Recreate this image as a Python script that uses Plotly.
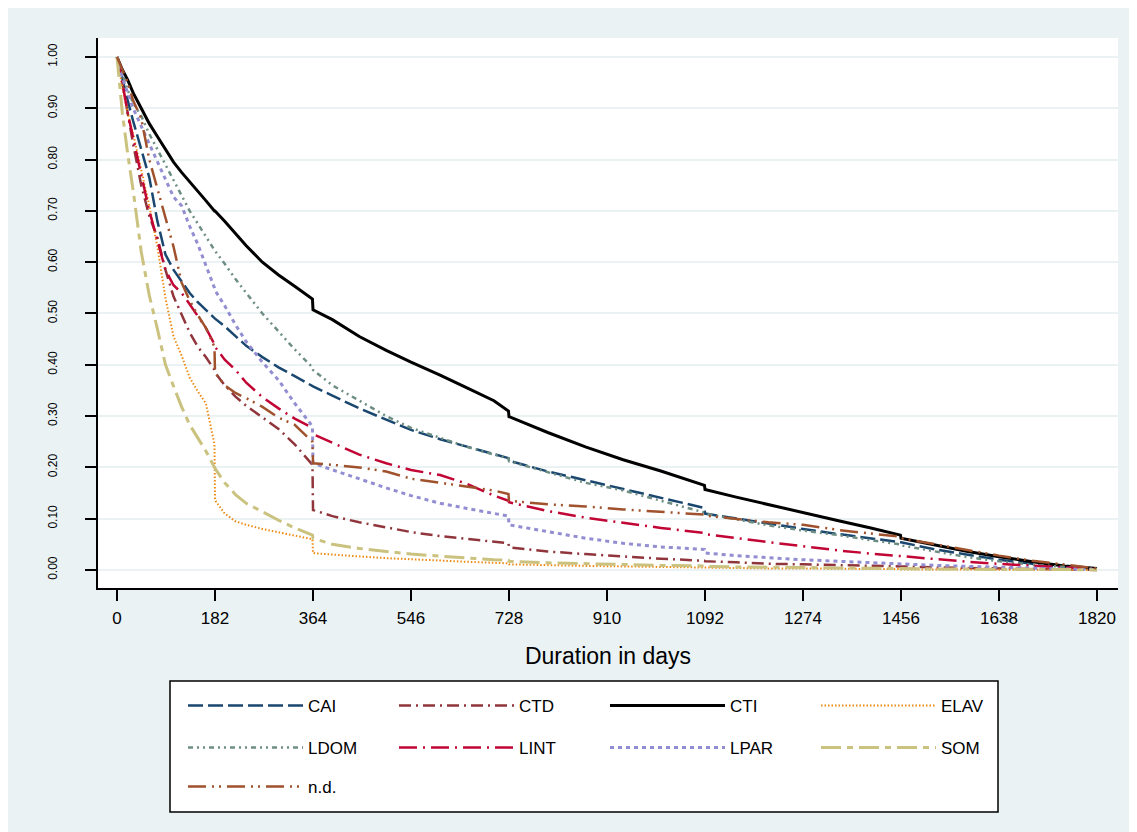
import plotly.graph_objects as go

# ---------------- data ----------------
days = [0, 10, 20, 30, 45, 60, 75, 90, 105, 120, 135, 150, 165, 181, 182, 200, 220, 240, 270,
        300, 330, 363, 364, 400, 450, 500, 546, 600, 650, 700, 727, 728, 800, 870, 940, 1010,
        1091, 1092, 1150, 1210, 1274, 1340, 1400, 1455, 1456, 1520, 1580, 1638, 1700, 1760, 1820]

CAI = [1.0, 0.955, 0.915, 0.875, 0.82, 0.765, 0.68, 0.615, 0.585, 0.562, 0.54, 0.522, 0.507, 0.492, 0.49,
       0.475, 0.455, 0.437, 0.415, 0.395, 0.378, 0.36, 0.358, 0.34, 0.315, 0.293, 0.273, 0.255, 0.24, 0.225,
       0.218, 0.213, 0.192, 0.175, 0.158, 0.14, 0.121, 0.11, 0.1, 0.09, 0.08, 0.07, 0.062, 0.055, 0.054,
       0.04, 0.03, 0.02, 0.012, 0.006, 0.003]
CTD = [1.0, 0.95, 0.89, 0.83, 0.75, 0.69, 0.648, 0.585, 0.533, 0.497, 0.463, 0.435, 0.415, 0.39, 0.385,
       0.36, 0.338, 0.32, 0.298, 0.275, 0.245, 0.205, 0.117, 0.105, 0.093, 0.083, 0.074, 0.066, 0.06, 0.055,
       0.052, 0.044, 0.036, 0.031, 0.026, 0.022, 0.018, 0.017, 0.015, 0.012, 0.011, 0.01, 0.008, 0.007, 0.007,
       0.005, 0.004, 0.003, 0.002, 0.001, 0.0]
CTI = [1.0, 0.975, 0.955, 0.93, 0.9, 0.87, 0.845, 0.82, 0.795, 0.775, 0.757, 0.74, 0.72, 0.7, 0.7,
       0.68, 0.655, 0.632, 0.6, 0.575, 0.553, 0.528, 0.507, 0.488, 0.455, 0.428, 0.405, 0.38, 0.355, 0.33,
       0.31, 0.299, 0.268, 0.24, 0.215, 0.193, 0.165, 0.157, 0.142, 0.127, 0.112, 0.096, 0.082, 0.068, 0.062,
       0.048, 0.036, 0.026, 0.016, 0.008, 0.003]
ELAV = [1.0, 0.94, 0.89, 0.85, 0.78, 0.71, 0.63, 0.53, 0.455, 0.418, 0.375, 0.348, 0.325, 0.245, 0.136,
        0.11, 0.095, 0.088, 0.08, 0.073, 0.067, 0.06, 0.033, 0.03, 0.026, 0.023, 0.021, 0.018, 0.016, 0.014,
        0.013, 0.011, 0.009, 0.008, 0.007, 0.006, 0.005, 0.004, 0.004, 0.003, 0.003, 0.002, 0.002, 0.002, 0.001,
        0.001, 0.001, 0.001, 0.001, 0.0, 0.0]
LDOM = [1.0, 0.965, 0.935, 0.91, 0.885, 0.85, 0.82, 0.79, 0.76, 0.73, 0.7, 0.675, 0.65, 0.625, 0.622,
        0.597, 0.567, 0.54, 0.5, 0.465, 0.43, 0.395, 0.39, 0.36, 0.33, 0.3, 0.277, 0.258, 0.24, 0.225,
        0.218, 0.212, 0.19, 0.17, 0.155, 0.135, 0.112, 0.11, 0.098, 0.087, 0.077, 0.068, 0.058, 0.05, 0.048,
        0.036, 0.025, 0.017, 0.01, 0.006, 0.002]
LINT = [1.0, 0.95, 0.89, 0.84, 0.77, 0.7, 0.645, 0.585, 0.555, 0.54, 0.518, 0.495, 0.472, 0.44, 0.435,
        0.41, 0.39, 0.365, 0.337, 0.315, 0.295, 0.277, 0.265, 0.248, 0.225, 0.208, 0.195, 0.185, 0.168, 0.145,
        0.135, 0.132, 0.115, 0.102, 0.092, 0.082, 0.072, 0.07, 0.062, 0.054, 0.046, 0.038, 0.032, 0.027, 0.026,
        0.02, 0.016, 0.012, 0.008, 0.005, 0.002]
LPAR = [1.0, 0.96, 0.93, 0.9, 0.865, 0.83, 0.795, 0.76, 0.727, 0.71, 0.67, 0.635, 0.595, 0.55, 0.545,
        0.515, 0.478, 0.445, 0.405, 0.37, 0.325, 0.28, 0.208, 0.195, 0.177, 0.16, 0.145, 0.13, 0.12, 0.111,
        0.105, 0.088, 0.075, 0.062, 0.052, 0.045, 0.04, 0.033, 0.028, 0.024, 0.02, 0.017, 0.014, 0.012, 0.011,
        0.009, 0.007, 0.005, 0.003, 0.002, 0.001]
SOM = [1.0, 0.89, 0.81, 0.74, 0.62, 0.535, 0.47, 0.4, 0.358, 0.318, 0.283, 0.258, 0.232, 0.2, 0.198,
       0.17, 0.147, 0.13, 0.113, 0.097, 0.082, 0.068, 0.062, 0.05, 0.042, 0.036, 0.031, 0.027, 0.023, 0.02,
       0.019, 0.017, 0.014, 0.012, 0.01, 0.009, 0.008, 0.007, 0.006, 0.006, 0.005, 0.004, 0.004, 0.003, 0.003,
       0.002, 0.002, 0.001, 0.001, 0.001, 0.0]
ND = [1.0, 0.975, 0.95, 0.915, 0.88, 0.8, 0.745, 0.69, 0.63, 0.56, 0.525, 0.497, 0.472, 0.435, 0.385,
      0.36, 0.345, 0.335, 0.318, 0.297, 0.283, 0.25, 0.208, 0.205, 0.2, 0.192, 0.178, 0.17, 0.162, 0.155,
      0.148, 0.135, 0.128, 0.124, 0.118, 0.113, 0.108, 0.106, 0.1, 0.093, 0.088, 0.078, 0.071, 0.065, 0.062,
      0.05, 0.038, 0.028, 0.018, 0.01, 0.003]

series_names = ["CAI", "CTD", "CTI", "ELAV", "LDOM", "LINT", "LPAR", "SOM", "n.d."]
series_values = [CAI, CTD, CTI, ELAV, LDOM, LINT, LPAR, SOM, ND]

x_ticks = [0, 182, 364, 546, 728, 910, 1092, 1274, 1456, 1638, 1820]
y_ticks = [0.0, 0.1, 0.2, 0.3, 0.4, 0.5, 0.6, 0.7, 0.8, 0.9, 1.0]
y_ticklabels = ["0.00", "0.10", "0.20", "0.30", "0.40", "0.50", "0.60", "0.70", "0.80", "0.90", "1.00"]
x_title = "Duration in days"

# ---------------- styles ----------------
styles = {
    "CAI":  dict(color="#1a476f", width=2.5, dash="15px,5px"),
    "CTD":  dict(color="#90353b", width=2.5, dash="12px,5px,2px,5px"),
    "CTI":  dict(color="#000000", width=3.0, dash="solid"),
    "ELAV": dict(color="#ee8a12", width=2.0, dash="1.5px,2px"),
    "LDOM": dict(color="#6e8e84", width=2.5, dash="5px,4px,2px,4px,2px,4px"),
    "LINT": dict(color="#c10534", width=2.5, dash="18px,6px,2px,6px"),
    "LPAR": dict(color="#938dd2", width=3.0, dash="4px,4px"),
    "SOM":  dict(color="#cac27e", width=3.0, dash="20px,6px,6px,6px"),
    "n.d.": dict(color="#a0522d", width=2.5, dash="18px,6px,2px,5px,2px,6px"),
}
legend_of = {"CAI": "legend", "CTD": "legend", "CTI": "legend", "ELAV": "legend",
             "LDOM": "legend2", "LINT": "legend2", "LPAR": "legend2", "SOM": "legend2",
             "n.d.": "legend3"}

fig = go.Figure()
for name, vals in zip(series_names, series_values):
    fig.add_trace(go.Scatter(x=days, y=vals, mode="lines", name=name,
                             line=styles[name], legend=legend_of[name],
                             hoverinfo="skip"))

# geometry (page pixels of the reference, page has an 8px body margin)
OFF = 8
W, H = 1137, 832
L, R, T, B = 98 - OFF, 1118 - OFF, 38 - OFF, 588 - OFF
pw, ph = R - L, B - T

def px_x(p):
    return (p - OFF - L) / pw

def px_y(p):
    return (B - (p - OFF)) / ph

FONT = "Liberation Sans, Arial, Helvetica, sans-serif"
ITEMW = 115

leg_common = dict(orientation="h", bgcolor="rgba(0,0,0,0)", borderwidth=0,
                  font=dict(family=FONT, size=17, color="#000000"),
                  entrywidth=211 - (ITEMW + 10) - 5, entrywidthmode="pixels", itemwidth=ITEMW,
                  xanchor="left", yanchor="middle", itemclick=False, itemdoubleclick=False)
leg_x = px_x(308 - (ITEMW + 10))

fig.update_layout(
    width=W, height=H,
    margin=dict(l=L, r=W - R, t=T, b=H - B, pad=0, autoexpand=False),
    paper_bgcolor="#eaf2f3",
    plot_bgcolor="#ffffff",
    font=dict(family=FONT, color="#000000"),
    showlegend=True,
    legend=dict(leg_common, x=leg_x, y=px_y(706)),
    legend2=dict(leg_common, x=leg_x, y=px_y(748)),
    legend3=dict(leg_common, x=leg_x, y=px_y(787)),
    xaxis=dict(range=[-35.3, 1859], tickvals=x_ticks, ticktext=[str(v) for v in x_ticks],
               ticks="outside", ticklen=11, tickwidth=1.5, tickcolor="#000000",
               showline=True, linecolor="#000000", linewidth=1.5, mirror=False,
               showgrid=False, zeroline=False, ticklabelstandoff=3,
               tickfont=dict(family=FONT, size=17, color="#000000"),
               title=dict(text=x_title, font=dict(family=FONT, size=23, color="#000000"), standoff=21),
               automargin=False),
    yaxis=dict(range=[-0.0351, 1.037], tickvals=y_ticks, ticktext=y_ticklabels,
               tickangle=-90, ticks="outside", ticklen=11, tickwidth=1.5, tickcolor="#000000",
               showline=True, linecolor="#000000", linewidth=1.5, mirror=False,
               showgrid=True, gridcolor="#eaf2f3", gridwidth=2, zeroline=False,
               ticklabelstandoff=23,
               tickfont=dict(family=FONT, size=12, color="#000000"),
               automargin=False),
    shapes=[
        # legend box
        dict(type="rect", xref="paper", yref="paper", x0=px_x(170), x1=px_x(998), y0=px_y(812), y1=px_y(681),
             fillcolor="#ffffff", line=dict(color="#000000", width=1.5), layer="below"),
    ],
)

fig.write_html("out.html")
